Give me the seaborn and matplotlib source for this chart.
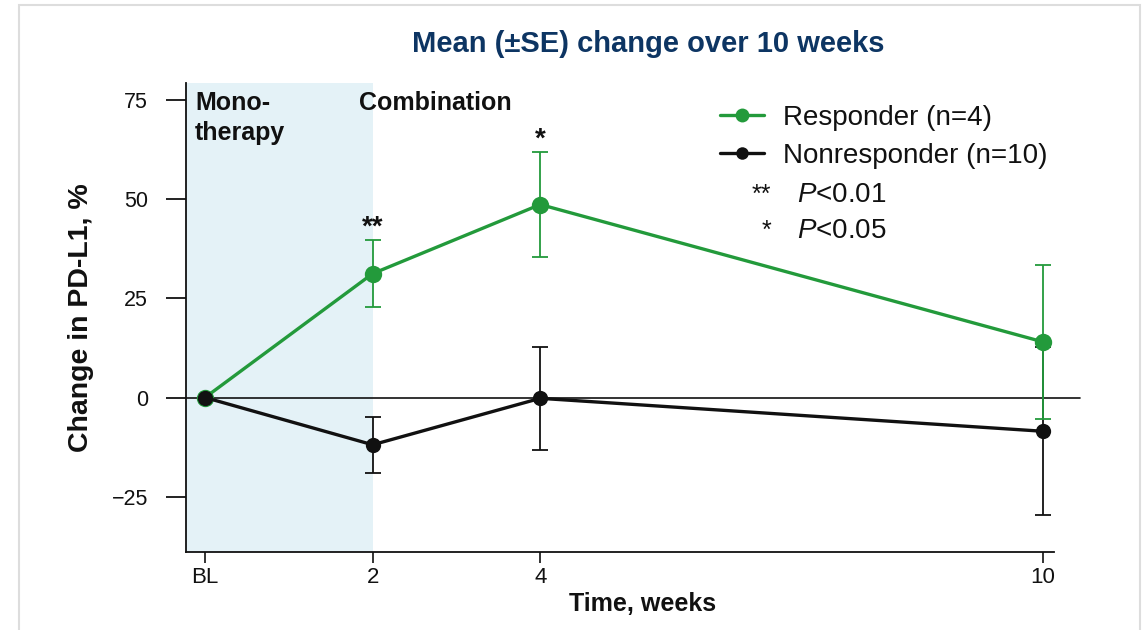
import numpy as np
import pandas as pd
import matplotlib
matplotlib.use("Agg")
import matplotlib.pyplot as plt
import seaborn as sns
from matplotlib.lines import Line2D
from matplotlib.patches import Rectangle

# ---- data ----
weeks = [0, 2, 4, 10]
tick_labels = ["BL", "2", "4", "10"]
resp_mean = [0.0, 31.2, 48.6, 14.0]
resp_se = [0.0, 8.4, 13.1, 19.4]
nonresp_mean = [0.0, -11.9, -0.2, -8.5]
nonresp_se = [0.0, 7.0, 13.0, 21.2]
groups = ["Responder (n=4)", "Nonresponder (n=10)"]
sig_marks = ["**", "*"]
sig_weeks = [2, 4]
sig_labels = ["$P$<0.01", "$P$<0.05"]
yticks = [-25, 0, 25, 50, 75]

GREEN = "#239a3b"
BLACK = "#111111"
SHADE = "#e4f2f7"
TITLE = "#0d3563"

sns.set_theme(style="white")
plt.rcParams["font.family"] = ["Liberation Sans", "DejaVu Sans"]
plt.rcParams["mathtext.fontset"] = "custom"
plt.rcParams["mathtext.it"] = "Liberation Sans:italic"
plt.rcParams["mathtext.rm"] = "Liberation Sans"

df = pd.DataFrame({
    "week": weeks * 2,
    "mean": resp_mean + nonresp_mean,
    "se": resp_se + nonresp_se,
    "group": [groups[0]] * 4 + [groups[1]] * 4,
})

W, H = 1145, 630
fig = plt.figure(figsize=(W / 100, H / 100), dpi=100)
ax = fig.add_axes([186 / W, 1 - 552 / H, (1054 - 186) / W, (552 - 83) / H])

xlim = (-0.227, 10.13)
ax.set_xlim(*xlim)
ax.set_ylim(-38.9, 79.2)

# shaded monotherapy region
ax.axvspan(xlim[0], 2, color=SHADE, zorder=0, lw=0)
# zero line extending beyond the axes
ax.axhline(0, xmin=0, xmax=1.03, color=BLACK, lw=1.2, clip_on=False, zorder=1)

# error bars
nr = df[df.group == groups[1]]
rr = df[df.group == groups[0]]
ax.errorbar(nr.week[1:], nr["mean"][1:], yerr=nr.se[1:], fmt="none",
            ecolor=BLACK, elinewidth=1.3, capsize=6, capthick=1.3, zorder=2)
ax.errorbar(rr.week[1:], rr["mean"][1:], yerr=rr.se[1:], fmt="none",
            ecolor=GREEN, elinewidth=1.3, capsize=6, capthick=1.3, zorder=3)

sns.lineplot(data=rr, x="week", y="mean", color=GREEN, lw=2.4, marker="o",
             markersize=12.5, markeredgewidth=0, ax=ax, zorder=4, legend=False)
sns.lineplot(data=nr, x="week", y="mean", color=BLACK, lw=2.4, marker="o",
             markersize=11, markeredgewidth=0, ax=ax, zorder=5, legend=False)

# significance stars
for w, m in zip(sig_weeks, sig_marks):
    i = weeks.index(w)
    top = resp_mean[i] + resp_se[i]
    ax.annotate(m, (w, top), xytext=(0, 4), textcoords="offset points",
                ha="center", va="baseline", fontsize=20, fontweight="bold", color=BLACK)

# spines and ticks
sns.despine(ax=ax)
for s in ["left", "bottom"]:
    ax.spines[s].set_color(BLACK)
    ax.spines[s].set_linewidth(1.3)
ax.set_yticks(yticks)
ax.set_yticklabels(["\u221225" if v < 0 else str(v) for v in yticks], fontsize=15.5)
ax.set_xticks(weeks)
ax.set_xticklabels(tick_labels, fontsize=16)
ax.tick_params(axis="y", which="major", direction="out", length=14.4, width=1.3,
               color=BLACK, labelsize=15.5, labelcolor=BLACK, pad=13, left=True)
ax.tick_params(axis="x", which="major", direction="out", length=8, width=1.2,
               color=BLACK, labelsize=16, labelcolor=BLACK, pad=3, bottom=True)
ax.grid(False)

ax.set_ylabel("Change in PD-L1, %", fontsize=20.5, fontweight="bold", color=BLACK, labelpad=13)
ax.set_xlabel("Time, weeks", fontsize=18, fontweight="bold", color=BLACK)
ax.xaxis.set_label_coords((643 - 186) / 868, -0.085)

# region labels
fig.text(195 / W, 1 - 91 / H, "Mono-\ntherapy", fontsize=18, fontweight="bold",
         color=BLACK, ha="left", va="top", linespacing=1.3)
fig.text(359 / W, 1 - 91 / H, "Combination", fontsize=18, fontweight="bold",
         color=BLACK, ha="left", va="top")

# title
fig.text(648 / W, 1 - 44 / H, "Mean (\u00b1SE) change over 10 weeks", fontsize=21,
         fontweight="bold", color=TITLE, ha="center", va="center")

# legend
handles = [Line2D([0], [0], color=GREEN, lw=2.4, marker="o", markersize=10, markeredgewidth=0),
           Line2D([0], [0], color=BLACK, lw=2.4, marker="o", markersize=9, markeredgewidth=0)]
leg = fig.legend(handles, groups, loc="upper left", bbox_to_anchor=(720 / W, 1 - 105 / H),
                 frameon=False, fontsize=20, handlelength=1.6, handletextpad=0.68,
                 labelspacing=0.43, borderpad=0, borderaxespad=0)
for t in leg.get_texts():
    t.set_color(BLACK)

for k, (m, lab) in enumerate(zip(sig_marks, sig_labels)):
    y = 1 - (195 + 36 * k) / H
    fig.text(771 / W, y, m, fontsize=18, color=BLACK, ha="right", va="center")
    fig.text(797 / W, y, lab, fontsize=20, color=BLACK, ha="left", va="center")

# light frame around figure
fig.patches.append(Rectangle((19 / W, -0.05), (1140 - 19) / W, 1 - 5 / H + 0.05,
                             transform=fig.transFigure, fill=False,
                             edgecolor="#dddddd", lw=1.5))

fig.savefig("out.png", dpi=100)
